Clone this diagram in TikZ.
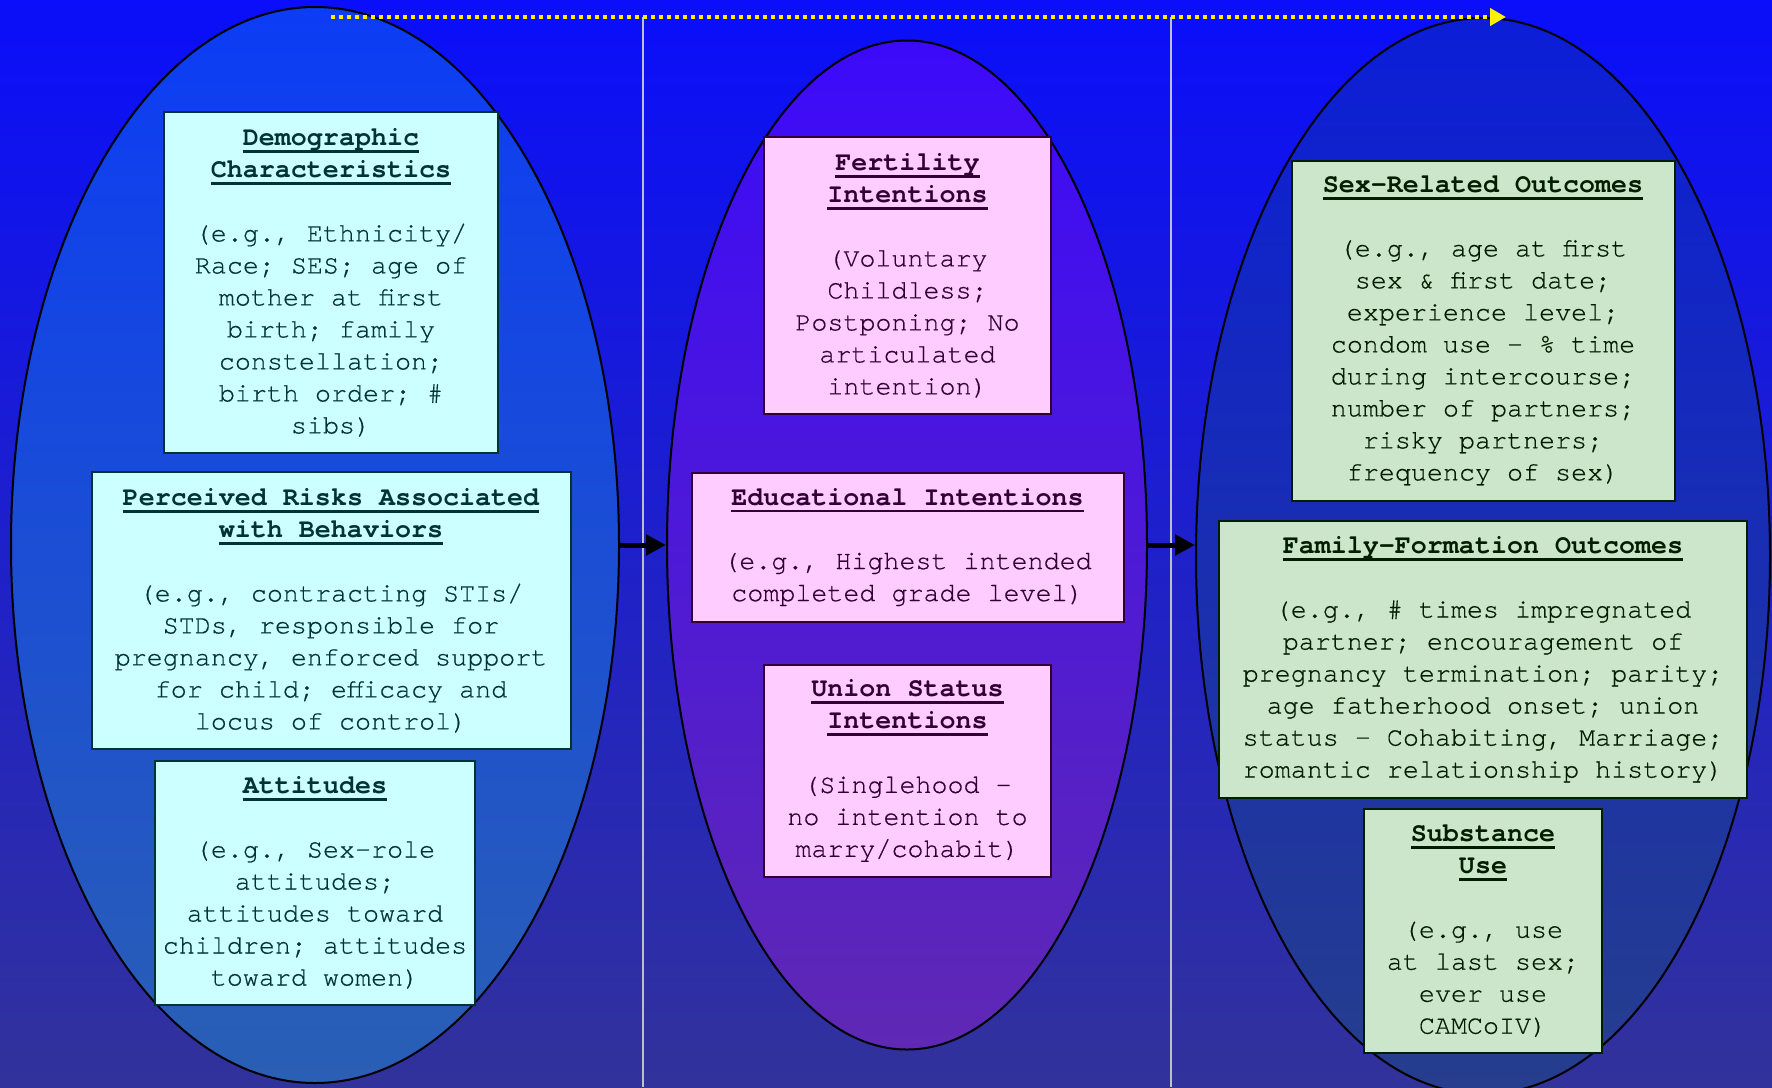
\documentclass[tikz,border=0pt]{standalone}
\usepackage{fontspec}
\setmainfont{TeX Gyre Cursor}[UprightFeatures={FakeBold=0.5}]
\usetikzlibrary{shapes.geometric,arrows.meta}
\definecolor{bgtop}{RGB}{10,14,250}
\definecolor{bgmid}{RGB}{30,32,205}
\definecolor{bgbot}{RGB}{50,50,155}
\definecolor{lelltop}{RGB}{12,60,245}
\definecolor{lellbot}{RGB}{42,95,180}
\definecolor{melltop}{RGB}{60,10,250}
\definecolor{mellbot}{RGB}{95,40,180}
\definecolor{relltop}{RGB}{12,30,215}
\definecolor{rellbot}{RGB}{38,62,140}
\definecolor{cyanfill}{RGB}{204,255,255}
\definecolor{cyantext}{RGB}{0,51,51}
\definecolor{pinkfill}{RGB}{255,204,255}
\definecolor{pinktext}{RGB}{51,0,51}
\definecolor{greenfill}{RGB}{204,230,204}
\definecolor{greentext}{RGB}{0,30,0}
\definecolor{sepgray}{RGB}{190,190,200}
\newsavebox\ttlbox
\newcommand{\ttl}[1]{\sbox\ttlbox{\bfseries #1}\rlap{\rule[-3.6pt]{\wd\ttlbox}{1.35pt}}\usebox\ttlbox}
\begin{document}
\begin{tikzpicture}[x=0.5pt,y=-0.5pt,
  oval/.style={ellipse, draw=black, line width=1pt, inner sep=0pt},
  box/.style={draw, line width=1pt, align=center, inner sep=0pt,
    font=\fontsize{13.35}{16}\selectfont,
    execute at begin node={\rule{0pt}{12.5pt}}},
  cbox/.style={box, fill=cyanfill, draw=cyantext, text=cyantext},
  pbox/.style={box, fill=pinkfill, draw=pinktext, text=pinktext},
  gbox/.style={box, fill=greenfill, draw=greentext, text=greentext},
  flow/.style={line width=2.5pt, -{Triangle[length=10pt,width=10pt]}},
  sepline/.style={sepgray, line width=1pt},
  timeline/.style={yellow, line width=2pt, dash pattern=on 2pt off 2pt,
    -{Triangle[length=8pt,width=8.5pt]}}]
\useasboundingbox (0,0) rectangle (1772,1087);
\shade[top color=bgtop, middle color=bgmid, bottom color=bgbot] (0,0) rectangle (1772,1087);
% separators
\coordinate (s1t) at (643,17);
\coordinate (s1b) at (643,1087);
\coordinate (s2t) at (1171,17);
\coordinate (s2b) at (1171,1087);
\draw[sepline] (s1t) -- (s1b);
\draw[sepline] (s2t) -- (s2b);
% ellipses
\node[oval, top color=lelltop, bottom color=lellbot, minimum width=304pt, minimum height=538pt] (L) at (315,545) {};
\node[oval, top color=melltop, bottom color=mellbot, minimum width=240pt, minimum height=504.5pt] (M) at (907,545) {};
\node[oval, top color=relltop, bottom color=rellbot, minimum width=287pt, minimum height=538pt] (R) at (1483,556) {};
% flow arrows
\draw[flow] (L.east) -- (M.west);
\draw[flow] (M.east) -- (M.east -| R.west);
% timeline
\coordinate (ta) at (331,17);
\coordinate (tb) at (1506,17);
\draw[timeline] (ta) -- (tb);
% left boxes
\node[cbox, minimum width=167pt, minimum height=170.5pt] (demo) at (331,282.5)
 {\ttl{Demographic}\\ \ttl{Characteristics}\\[16pt] (e.g., Ethnicity/\\ Race; SES; age of\\ mother at first\\ birth; family\\ constellation;\\ birth order; \#\\ sibs)};
\node[cbox, minimum width=239.5pt, minimum height=138.5pt] (risk) at (331,610.5)
 {\ttl{Perceived Risks Associated}\\ \ttl{with Behaviors}\\[16pt] (e.g., contracting STIs/\\ STDs, responsible for\\ pregnancy, enforced support\\ for child; efficacy and\\ locus of control)};
\node[cbox, minimum width=160pt, minimum height=122pt] (att) at (315,882.6)
 {\ttl{Attitudes}\\[16pt] (e.g., Sex-role\\ attitudes;\\ attitudes toward\\ children; attitudes\\ toward women)};
% middle boxes
\node[pbox, minimum width=143.5pt, minimum height=138.5pt] (fert) at (907.5,275.5)
 {\ttl{Fertility}\\ \ttl{Intentions}\\[16pt] (Voluntary\\ Childless;\\ Postponing; No\\ articulated\\ intention)};
\node[pbox, minimum width=216pt, minimum height=74.5pt] (edu) at (907.5,547)
 {\ttl{Educational Intentions}\\[16pt] (e.g., Highest intended\\ completed grade level)};
\node[pbox, minimum width=143.5pt, minimum height=106pt] (union) at (907.5,770.8)
 {\ttl{Union Status}\\ \ttl{Intentions}\\[16pt] (Singlehood –\\ no intention to\\ marry/cohabit)};
% right boxes
\node[gbox, minimum width=191.5pt, minimum height=170pt] (sex) at (1483,330.5)
 {\ttl{Sex-Related Outcomes}\\[16pt] (e.g., age at first\\ sex \& first date;\\ experience level;\\ condom use – \% time\\ during intercourse;\\ number of partners;\\ risky partners;\\ frequency of sex)};
\node[gbox, minimum width=264pt, minimum height=138.5pt] (fam) at (1483,659.5)
 {\ttl{Family-Formation Outcomes}\\[16pt] (e.g., \# times impregnated\\ partner; encouragement of\\ pregnancy termination; parity;\\ age fatherhood onset; union\\ status – Cohabiting, Marriage;\\ romantic relationship history)};
\node[gbox, minimum width=119.25pt, minimum height=122pt] (subst) at (1483,931)
 {\ttl{Substance}\\ \ttl{Use}\\[16pt] (e.g., use\\ at last sex;\\ ever use\\ CAMCoIV)};
\end{tikzpicture}
\end{document}
